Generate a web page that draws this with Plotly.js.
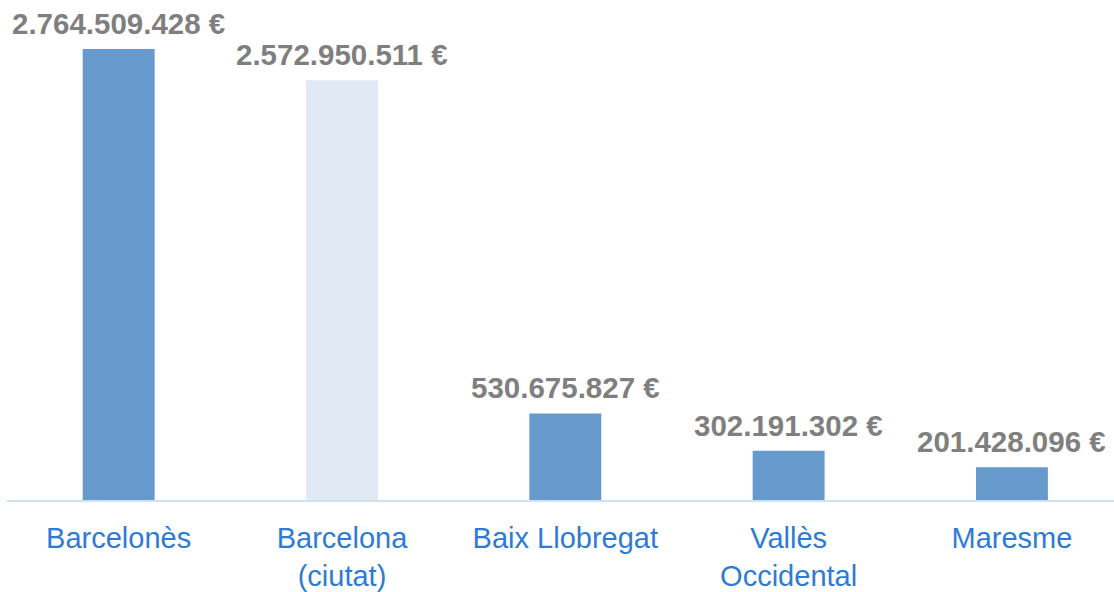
<!DOCTYPE html>
<html>
<head>
<meta charset="utf-8">
<script src="https://cdn.plot.ly/plotly-3.0.1.min.js"></script>
<style>html,body{margin:0;padding:0;background:#fff;}#chart{width:1114px;height:592px;}</style>
</head>
<body>
<div id="chart"></div>
<script>
const categories = ["Barcelonès", "Barcelona<br>(ciutat)", "Baix Llobregat", "Vallès<br>Occidental", "Maresme"];
const values = [2764509428, 2572950511, 530675827, 302191302, 201428096];
const barColors = ["#6699CC", "#E1E9F5", "#6699CC", "#6699CC", "#6699CC"];

function fmt(n) {
  return String(Math.round(n)).replace(/\B(?=(\d{3})+(?!\d))/g, ".") + " €";
}

const trace = {
  type: "bar",
  x: categories,
  y: values,
  width: 0.322,
  marker: {color: barColors, line: {width: 0}},
  hoverinfo: "skip"
};

const annotations = categories.map((c, i) => ({
  x: c,
  y: values[i],
  xref: "x",
  yref: "y",
  text: fmt(values[i]),
  showarrow: false,
  xanchor: "center",
  yanchor: "bottom",
  yshift: 7,
  font: {family: "Liberation Sans, Arial, sans-serif", size: 29.5, color: "#7F7F7F", weight: "bold"}
}));

const layout = {
  width: 1114,
  height: 592,
  margin: {l: 7, r: 0, t: 0, b: 92},
  paper_bgcolor: "#fff",
  plot_bgcolor: "#fff",
  showlegend: false,
  xaxis: {
    type: "category",
    range: [-0.5, 4.457],
    showgrid: false,
    zeroline: false,
    showline: true,
    linecolor: "#CFE0F3",
    linewidth: 2,
    ticks: "",
    ticklabelstandoff: 11,
    tickfont: {family: "Liberation Sans, Arial, sans-serif", size: 29, color: "#2E7BD6"},
    fixedrange: true
  },
  yaxis: {
    range: [0, 3.065e9],
    visible: false,
    showgrid: false,
    zeroline: false,
    fixedrange: true
  },
  annotations: annotations
};

Plotly.newPlot("chart", [trace], layout, {displayModeBar: false, staticPlot: true});
</script>
</body>
</html>
